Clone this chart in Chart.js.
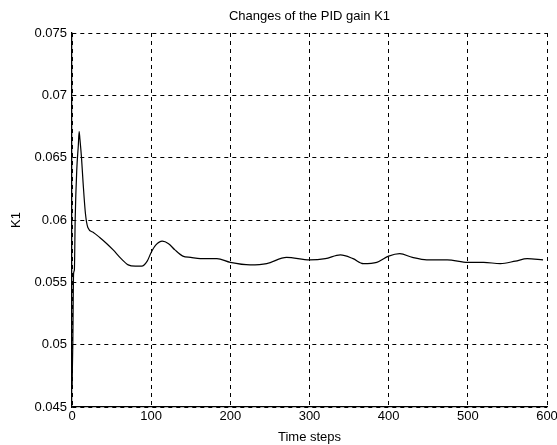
<!DOCTYPE html>
<html>
<head>
<meta charset="utf-8">
<script src="https://cdn.jsdelivr.net/npm/chart.js@4"></script>
<style>
  html, body { margin: 0; padding: 0; background: #fff; }
  #wrap { width: 557px; height: 445px; }
</style>
</head>
<body>
<div id="wrap"><canvas id="chart-k1" width="557" height="445"></canvas></div>
<script>
// time steps and K1 gain
const steps = [0, 1, 2, 3, 4, 6, 8, 9, 10, 12, 14, 17, 20, 27, 35, 44, 52, 62, 71, 80, 88, 95,
  100, 106, 114, 122, 130, 140, 150, 162, 183, 200, 225, 246, 271, 300, 320, 339, 355, 368,
  385, 400, 414, 430, 448, 474, 500, 520, 541, 560, 575, 595];
const k1 = [0.0465, 0.0500, 0.0557, 0.0560, 0.0600, 0.0640, 0.0660, 0.0671, 0.0665, 0.0650,
  0.0630, 0.0605, 0.0594, 0.0590, 0.0586, 0.0581, 0.0576, 0.0569, 0.0564, 0.0563, 0.0563,
  0.0567, 0.0574, 0.0580, 0.0583, 0.0581, 0.0576, 0.0571, 0.0570, 0.0569, 0.0569, 0.0566,
  0.0564, 0.0565, 0.0570, 0.0568, 0.0569, 0.0572, 0.0569, 0.0565, 0.0566, 0.0571, 0.0573,
  0.0570, 0.0568, 0.0568, 0.0566, 0.0566, 0.0565, 0.0567, 0.0569, 0.0568];

const xTicks = [0, 100, 200, 300, 400, 500, 600];
const yTicks = [0.045, 0.05, 0.055, 0.06, 0.065, 0.07, 0.075];
const titleText = 'Changes of the PID gain K1';

Chart.defaults.font.family = '"Liberation Sans", Arial, sans-serif';
Chart.defaults.font.size = 13;
Chart.defaults.color = '#000';

const points = steps.map((s, i) => ({ x: s, y: k1[i] }));

// title centred over the plot box, like MATLAB does
const axesTitle = {
  id: 'axesTitle',
  afterDraw(chart) {
    const { ctx, chartArea } = chart;
    ctx.save();
    ctx.font = '13px "Liberation Sans", Arial, sans-serif';
    ctx.fillStyle = '#000';
    ctx.textAlign = 'center';
    ctx.textBaseline = 'middle';
    ctx.fillText(titleText, (chartArea.left + chartArea.right) / 2, 16);
    ctx.restore();
  }
};

new Chart(document.getElementById('chart-k1'), {
  type: 'line',
  data: {
    datasets: [{
      data: points,
      borderColor: '#000',
      borderWidth: 1.2,
      pointRadius: 0,
      cubicInterpolationMode: 'monotone',
      fill: false
    }]
  },
  options: {
    responsive: false,
    animation: false,
    layout: { padding: { left: 0, right: 10, top: 33, bottom: 0 } },
    plugins: {
      legend: { display: false },
      tooltip: { enabled: false },
      title: { display: false }
    },
    scales: {
      x: {
        type: 'linear',
        min: 0, max: 600,
        afterBuildTicks: (s) => { s.ticks = xTicks.map(v => ({ value: v })); },
        afterFit: (s) => { s.height = 38; s.paddingLeft = 0; s.paddingRight = 0; },
        ticks: { padding: 2, maxRotation: 0 },
        grid: { color: '#000', lineWidth: 1, drawTicks: false },
        border: { display: true, color: '#000', width: 1.3, dash: [4, 4] },
        title: { display: true, text: 'Time steps', font: { size: 13 }, padding: { top: 0, bottom: 0 } }
      },
      y: {
        min: 0.045, max: 0.075,
        afterBuildTicks: (s) => { s.ticks = yTicks.map(v => ({ value: v })); },
        afterFit: (s) => { s.width = 72; s.paddingTop = 0; },
        ticks: { padding: 5, callback: (v) => String(Number(v.toFixed(3))) },
        grid: { color: '#000', lineWidth: 1, drawTicks: false },
        border: { display: true, color: '#000', width: 1.3, dash: [4, 4] },
        title: { display: true, text: 'K1', font: { size: 13 }, padding: { top: 9, bottom: 6 } }
      }
    }
  },
  plugins: [axesTitle]
});
</script>
</body>
</html>
